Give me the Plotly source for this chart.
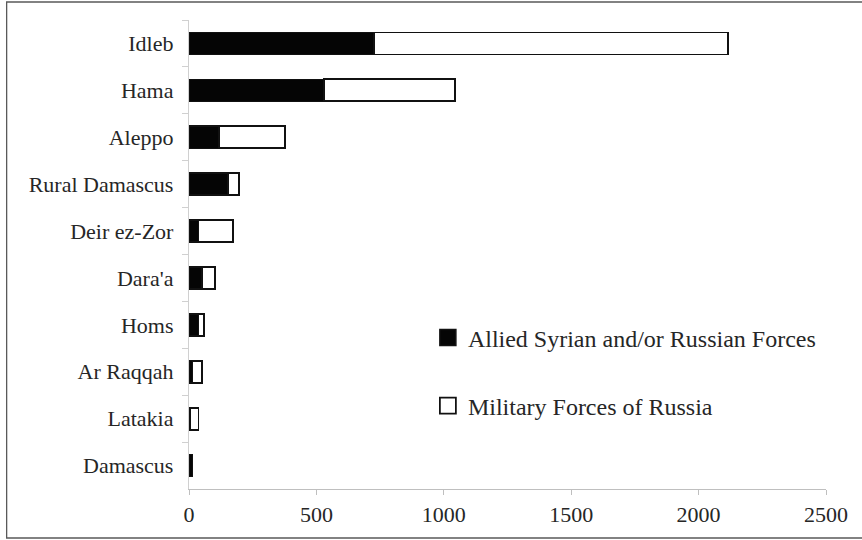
import plotly.graph_objects as go

provinces = ["Idleb", "Hama", "Aleppo", "Rural Damascus", "Deir ez-Zor",
             "Dara'a", "Homs", "Ar Raqqah", "Latakia", "Damascus"]
allied_forces = [726, 530, 118, 154, 37, 51, 37, 14, 4, 14]
russian_forces = [1389, 513, 259, 42, 137, 51, 22, 36, 33, 0]
x_ticks = [0, 500, 1000, 1500, 2000, 2500]

FONT = "Liberation Serif"
TXT = "#262626"

fig = go.Figure()
fig.add_trace(go.Bar(
    y=provinces, x=allied_forces, orientation="h",
    name="Allied Syrian and/or Russian Forces",
    marker=dict(color="#050505", line=dict(color="#111111", width=1.5)),
    width=0.47, showlegend=False,
))
fig.add_trace(go.Bar(
    y=provinces, x=russian_forces, orientation="h",
    name="Military Forces of Russia",
    marker=dict(color="#ffffff", line=dict(color="#111111", width=1.8)),
    width=0.47, showlegend=False,
))
# legend keys (larger square swatches than the fixed bar legend icon)
fig.add_trace(go.Scatter(
    x=[None], y=[None], mode="markers",
    name="Allied Syrian and/or Russian Forces",
    marker=dict(symbol="square", size=16, color="#050505",
                line=dict(color="#111111", width=1.5)),
    legend="legend", showlegend=True, hoverinfo="skip",
))
fig.add_trace(go.Scatter(
    x=[None], y=[None], mode="markers",
    name="Military Forces of Russia",
    marker=dict(symbol="square", size=16, color="#ffffff",
                line=dict(color="#111111", width=1.8)),
    legend="legend2", showlegend=True, hoverinfo="skip",
))

fig.update_layout(
    width=862, height=540,
    barmode="stack",
    plot_bgcolor="white", paper_bgcolor="white",
    margin=dict(l=188.5, r=36, t=20, b=51),
    font=dict(family=FONT, size=22, color=TXT),
    showlegend=True,
    xaxis=dict(
        range=[0, 2500], tickvals=x_ticks, showgrid=False, zeroline=False,
        showline=True, linecolor="#bfbfbf", linewidth=1.3,
        ticks="outside", ticklen=5, tickcolor="#bfbfbf",
        tickfont=dict(family=FONT, size=22, color=TXT),
    ),
    yaxis=dict(
        autorange="reversed", type="category", showgrid=False, zeroline=False,
        showline=True, linecolor="#d0d0d0", linewidth=1.3,
        ticks="outside", ticklen=6, tickcolor="#d0d0d0", tickson="boundaries",
        ticklabelstandoff=10,
        tickfont=dict(family=FONT, size=22, color=TXT),
    ),
    legend=dict(
        x=0.375, y=0.322, xanchor="left", yanchor="middle",
        bgcolor="rgba(0,0,0,0)",
        font=dict(family=FONT, size=24, color=TXT),
    ),
    legend2=dict(
        x=0.375, y=0.177, xanchor="left", yanchor="middle",
        bgcolor="rgba(0,0,0,0)",
        font=dict(family=FONT, size=24, color=TXT),
    ),
    shapes=[dict(
        type="rect", xref="paper", yref="paper",
        x0=(6 - 188.5) / 637.5, x1=(866 - 188.5) / 637.5,
        y0=(489 - 538) / 469, y1=(489 - 2) / 469,
        line=dict(color="#595959", width=1.3), fillcolor="rgba(0,0,0,0)",
        layer="below",
    )],
)

fig.write_html("out.html", config={"displayModeBar": False},
               post_script="document.body.style.margin='0';")
